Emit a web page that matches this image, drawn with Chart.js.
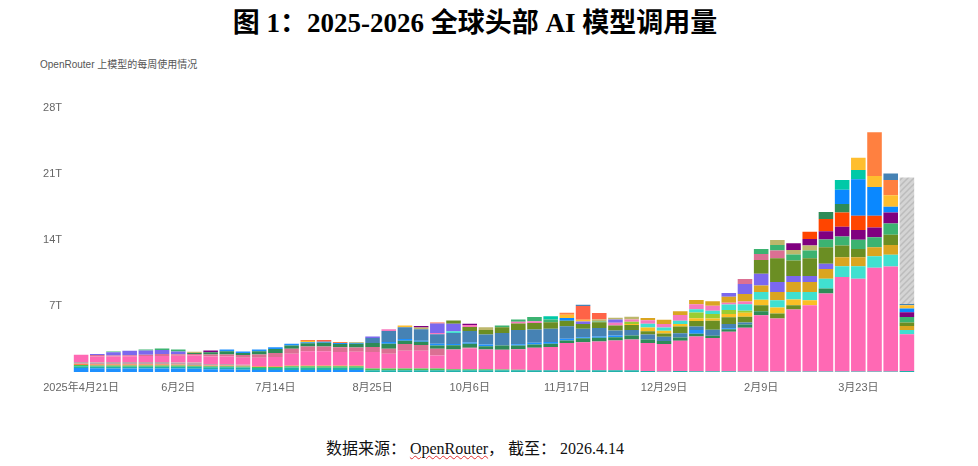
<!DOCTYPE html>
<html>
<head>
<meta charset="utf-8">
<script src="https://cdn.jsdelivr.net/npm/chart.js@4.4.1/dist/chart.umd.min.js"></script>
<style>
  html, body { margin: 0; padding: 0; background: #fff; }
  #page { position: relative; width: 978px; height: 466px; overflow: hidden; }
  #title {
    position: absolute; left: 0; top: 1px; width: 950px; text-align: center;
    font: bold 27px "Liberation Serif", "Noto Sans CJK SC", serif; color: #000;
  }
  #subtitle {
    position: absolute; left: 40px; top: 56px;
    font: 10px "Liberation Sans", "Noto Sans CJK SC", sans-serif; color: #555;
  }
  #source {
    position: absolute; left: 0; top: 435px; width: 950px; text-align: center;
    font: 16px "Liberation Serif", "Noto Sans CJK SC", serif; color: #111;
  }
  #source .sp { text-decoration: underline wavy #e03030; text-decoration-thickness: 1px; }
  #chartBox { position: absolute; left: 0; top: 90px; }
</style>
</head>
<body>
<div id="page">
  <div id="title">图 1：2025-2026 全球头部 AI 模型调用量</div>
  <div id="subtitle">OpenRouter 上模型的每周使用情况</div>
  <div id="chartBox"><canvas id="usageChart" width="930" height="310"></canvas></div>
  <div id="source">数据来源： <span class="sp">OpenRouter</span>， 截至： 2026.4.14</div>
</div>
<script>
// weekly categories (week start)
const weeks = [
    "2025年4月21日", "4月28日", "5月5日", "5月12日", "5月19日", "5月26日", "6月2日", "6月9日", "6月16日", "6月23日", "6月30日", "7月7日", "7月14日",
    "7月21日", "7月28日", "8月4日", "8月11日", "8月18日", "8月25日", "9月1日", "9月8日", "9月15日", "9月22日", "9月29日", "10月6日", "10月13日",
    "10月20日", "10月27日", "11月3日", "11月10日", "11月17日", "11月24日", "12月1日", "12月8日", "12月15日", "12月22日", "12月29日", "1月5日", "1月12日",
    "1月19日", "1月26日", "2月2日", "2月9日", "2月16日", "2月23日", "3月2日", "3月9日", "3月16日", "3月23日", "3月30日", "4月6日", "4月13日"
];
const yTicks = [7, 14, 21, 28];

// tokens per week (T), one array per model, bottom of the stack first
const blue0 = [
    .42, .4, .38, .38, .38, .38, .38, .35, .3, .3, .25, .2, .2,
    .22, .2, .2, .2, .2, 0, 0, 0, 0, 0, 0, 0, 0,
    0, 0, 0, 0, 0, 0, 0, 0, 0, 0, 0, 0, 0,
    0, 0, 0, 0, 0, 0, 0, 0, 0, 0, 0, 0, 0
];
const teal0 = [
    .18, .18, .18, .18, .18, .18, .18, .2, .2, .2, .22, .22, .22,
    .25, .25, .25, .25, .25, .18, .18, .18, .18, .18, .18, .18, .18,
    .18, .18, .18, .18, .18, .18, .18, .18, .18, .1, .05, .1, .08,
    .08, .07, .05, .05, .05, .05, .05, .05, .05, .05, .05, .05, .1
];
const lime0 = [
    .14, .12, .12, .12, .12, .12, .12, .1, .1, .1, .12, .1, .1,
    .13, .15, .15, .15, .15, .18, .18, .18, .18, .18, .1, .1, .1,
    .08, .05, 0, 0, 0, 0, 0, 0, 0, 0, 0, 0, 0,
    0, 0, 0, 0, 0, 0, 0, 0, 0, 0, 0, 0, 0
];
const orange0 = [
    .14, .12, .14, .14, .14, .14, .12, .1, .1, .1, .08, .08, .08,
    .1, .1, .1, .1, .1, 0, 0, 0, 0, 0, 0, 0, 0,
    0, 0, 0, 0, 0, 0, 0, 0, 0, 0, 0, 0, 0,
    0, 0, 0, 0, 0, 0, 0, 0, 0, 0, 0, 0, 0
];
const rosy0 = [
    .18, .2, .23, .23, .23, .23, .2, .25, .15, .15, .1, 0, 0,
    0, 0, 0, 0, 0, 0, 0, 0, 0, 0, 0, 0, 0,
    0, 0, 0, 0, 0, 0, 0, 0, 0, 0, 0, 0, 0,
    0, 0, 0, 0, 0, 0, 0, 0, 0, 0, 0, 0, 0
];
const pink = [
    .77, .63, .6, .63, .65, .65, .72, .75, .8, .8, .75, .9, 1.0,
    1.23, 1.5, 1.5, 1.42, 1.44, 1.75, 1.58, 1.9, 1.9, 1.4, 2.1, 2.2, 2.1,
    2.1, 2.18, 2.39, 2.46, 2.9, 2.98, 3.05, 3.16, 3.26, 2.98, 2.91, 3.2, 3.68,
    3.51, 4.18, 4.63, 5.96, 5.61, 6.56, 7.02, 8.25, 10.0, 9.82, 10.98, 11.12, 3.9
];
const mauve = [
    0, .14, .1, .1, .12, .2, .15, .15, .2, .2, .28, .35, .42,
    .53, .5, .5, .5, .45, .53, .53, .7, .6, .7, 0, .1, 0,
    0, 0, 0, 0, 0, 0, 0, 0, 0, 0, 0, 0, 0,
    0, 0, 0, 0, 0, 0, 0, 0, 0, 0, 0, 0, 0
];
const seaGreen = [
    0, 0, 0, 0, 0, 0, 0, .12, .25, .35, .2, .35, .42,
    .35, .35, .4, .35, .4, .42, .53, .35, .35, .35, .45, .4, .35,
    .45, .39, .35, .35, .25, .42, .39, .35, .42, .35, .32, .35, .28,
    .25, .28, .35, .42, 0, 0, 0, .53, 0, 0, 0, 0, 0
];
const blueLine = [
    0, 0, 0, 0, 0, 0, 0, 0, 0, .18, .17, .18, .18,
    .18, .1, .1, .1, .1, 0, .18, .18, .1, .18, .14, .14, .18,
    0, .14, .18, .18, .18, .1, .14, .18, 0, 0, 0, 0, .42,
    0, .1, 0, 0, 0, 0, 0, 0, 0, 0, 0, 0, 0
];
const steelBlue = [
    0, 0, 0, 0, 0, 0, 0, 0, 0, 0, 0, 0, 0,
    0, 0, 0, 0, 0, .53, 1.16, 1.25, 1.23, 1.0, 1.16, 1.23, 1.05,
    1.33, 1.5, 1.4, 1.4, 1.33, .91, .91, .53, .6, .53, .46, .46, .35,
    .63, .46, .2, 0, 0, 0, 0, 0, 0, 0, 0, 0, 0
];
const olive0 = [
    0, 0, 0, 0, 0, 0, 0, 0, 0, 0, 0, 0, 0,
    0, 0, 0, 0, 0, 0, 0, 0, 0, 0, 0, .42, .5,
    .6, .7, .7, .7, .6, .49, .6, .53, .53, .35, .35, .7, .6,
    .95, .7, .63, .63, .53, .46, 0, 0, 0, 0, 0, 0, 0
];
const gold2 = [
    0, 0, 0, 0, 0, 0, 0, 0, 0, 0, 0, 0, 0,
    0, 0, 0, 0, 0, 0, 0, 0, 0, 0, 0, 0, 0,
    0, 0, 0, 0, 0, 0, 0, 0, .08, .39, .28, .28, .28,
    .25, .35, .42, .6, .63, .6, .53, 0, 0, 0, 0, 0, 0
];
const yellowGreen = [
    0, 0, 0, 0, 0, 0, 0, 0, 0, 0, 0, 0, 0,
    0, 0, 0, 0, 0, 0, 0, 0, 0, 0, 0, 0, 0,
    0, 0, 0, 0, 0, 0, 0, 0, .25, 0, 0, 0, .6,
    .46, .42, .2, 0, 0, 0, 0, 0, 0, 0, 0, 0, 0
];
const turquoise = [
    0, 0, 0, 0, 0, 0, 0, 0, 0, 0, 0, 0, 0,
    0, 0, 0, 0, 0, 0, 0, 0, 0, 0, .18, 0, 0,
    0, 0, 0, 0, 0, 0, 0, 0, 0, .42, .35, .35, .35,
    .35, .6, .7, .81, .77, .81, .88, 1.05, 1.16, 1.33, 1.23, 1.26, .46
];
const pink2 = [
    0, 0, 0, 0, 0, 0, 0, 0, 0, 0, 0, 0, 0,
    0, 0, 0, 0, 0, 0, .18, 0, 0, .14, 0, .2, 0,
    0, .18, .18, 0, 0, 0, 0, .28, .25, .35, .35, .6, .53,
    .53, .18, .28, 0, 0, 0, 0, 0, 0, 0, 0, 0, 0
];
const goldenrod = [
    0, 0, 0, 0, 0, 0, 0, 0, 0, 0, 0, 0, 0,
    0, 0, 0, 0, 0, 0, 0, 0, 0, 0, 0, 0, 0,
    0, 0, 0, 0, 0, 0, 0, 0, 0, .25, .46, .39, .46,
    .49, .63, .81, .7, .88, 1.05, 1.05, 1.02, .95, .95, .95, 1.02, .42
];
const slateBlue = [
    0, .12, .35, .47, .45, .42, .3, 0, 0, 0, 0, 0, 0,
    0, 0, 0, 0, 0, .18, 0, 0, 0, 1.0, .8, 0, 0,
    0, 0, 0, 0, 0, .28, 0, .35, 0, 0, 0, 0, 0,
    0, .39, 1.05, 1.23, 1.05, .63, .63, .56, 0, 0, 0, 0, 0
];
const olive = [
    0, 0, 0, 0, 0, 0, 0, 0, 0, 0, 0, 0, 0,
    0, 0, 0, 0, 0, 0, 0, 0, 0, 0, .35, 0, 0,
    0, 0, 0, 0, 0, 0, 0, 0, 0, 0, 0, 0, 0,
    0, 0, 0, 1.47, 2.53, 1.65, 1.89, 1.75, 1.23, .88, 0, 1.09, .35
];
const paleRed = [
    0, 0, 0, 0, 0, 0, 0, 0, 0, 0, 0, 0, 0,
    0, 0, 0, 0, 0, 0, 0, 0, 0, 0, 0, 0, 0,
    0, 0, 0, 0, 0, 0, 0, 0, 0, 0, 0, 0, 0,
    0, 0, .53, .63, .81, 0, 0, 0, 0, 0, 0, 0, 0
];
const medSeaGreen = [
    0, 0, .07, 0, .1, .18, .2, 0, 0, 0, 0, 0, 0,
    0, 0, 0, 0, 0, 0, 0, 0, 0, 0, 0, 0, 0,
    .18, .25, .45, .28, 0, 0, .07, 0, 0, 0, 0, 0, 0,
    0, 0, 0, .53, .6, .63, .81, .81, .95, .98, 1.05, 1.19, .6
];
const khaki = [
    0, 0, 0, 0, 0, 0, 0, .12, 0, 0, 0, 0, 0,
    0, 0, 0, 0, 0, 0, 0, 0, .18, 0, 0, 0, .28,
    0, 0, 0, 0, 0, 0, .21, .18, .28, 0, 0, 0, 0,
    0, 0, 0, 0, .53, .49, .53, 0, 0, 0, 0, 0, 0
];
const purple = [
    0, 0, 0, 0, 0, 0, 0, 0, .18, 0, 0, 0, 0,
    0, 0, 0, 0, 0, 0, 0, 0, .15, 0, 0, .14, 0,
    0, 0, 0, 0, 0, 0, 0, 0, 0, 0, 0, 0, 0,
    0, 0, 0, 0, 0, .7, .7, .88, 1.05, 1.02, 1.05, 1.16, .5
];
const orangeRed = [
    0, 0, 0, 0, 0, 0, 0, 0, 0, 0, 0, 0, 0,
    0, 0, 0, 0, 0, 0, 0, 0, 0, 0, 0, 0, 0,
    0, 0, 0, 0, 0, 0, 0, 0, 0, 0, 0, 0, 0,
    0, 0, 0, 0, 0, 0, .77, 1.3, 1.51, 1.51, 1.23, 0, 0
];
const seaGreen2 = [
    0, 0, 0, 0, 0, 0, 0, 0, 0, 0, 0, 0, 0,
    0, 0, 0, 0, 0, 0, 0, 0, 0, 0, 0, 0, 0,
    0, 0, 0, 0, 0, 0, 0, 0, 0, 0, 0, 0, 0,
    0, 0, 0, 0, 0, 0, 0, .74, .88, 0, 0, 0, 0
];
const dodgerBlue = [
    0, 0, 0, 0, 0, 0, 0, 0, 0, 0, 0, 0, 0,
    0, 0, 0, 0, 0, 0, 0, 0, 0, 0, 0, 0, 0,
    0, 0, 0, 0, .28, 0, 0, 0, 0, 0, 0, 0, 0,
    0, 0, 0, 0, 0, 0, 0, 0, 1.51, 3.86, 3.05, .6, .4
];
const tealGreen = [
    0, 0, 0, 0, 0, 0, 0, 0, 0, 0, 0, 0, 0,
    0, 0, 0, 0, 0, 0, 0, 0, 0, 0, 0, 0, 0,
    0, 0, 0, .35, 0, 0, 0, 0, 0, 0, 0, 0, 0,
    0, 0, 0, 0, 0, 0, 0, 0, 1.05, .98, 0, 0, 0
];
const gold3 = [
    0, 0, 0, 0, 0, 0, 0, 0, 0, 0, 0, 0, 0,
    0, .12, 0, 0, .1, 0, 0, .18, 0, 0, 0, 0, 0,
    0, 0, 0, 0, .35, .18, 0, 0, 0, 0, 0, 0, 0,
    0, 0, 0, 0, 0, 0, 0, 0, 0, 1.3, 1.16, 1.23, .35
];
const coral = [
    0, 0, 0, 0, 0, 0, 0, 0, 0, 0, 0, 0, 0,
    0, .13, 0, .12, 0, 0, 0, 0, 0, 0, 0, 0, 0,
    0, 0, 0, 0, .2, 0, 0, 0, 0, 0, 0, 0, 0,
    0, 0, 0, 0, 0, 0, 0, 0, 0, 0, 4.63, 1.61, 0
];
const tomato = [
    0, 0, 0, 0, 0, 0, 0, 0, 0, 0, 0, 0, 0,
    0, 0, .2, 0, 0, 0, 0, 0, 0, .1, 0, 0, 0,
    0, 0, 0, 0, 0, 1.45, .7, 0, 0, 0, 0, 0, 0,
    0, 0, 0, 0, 0, 0, 0, 0, 0, 0, 0, 0, 0
];
const steelBlue2 = [
    0, 0, 0, 0, 0, 0, 0, 0, 0, 0, 0, 0, 0,
    0, 0, 0, 0, 0, 0, 0, 0, 0, 0, 0, 0, 0,
    0, 0, 0, 0, 0, .14, 0, 0, 0, 0, 0, 0, 0,
    0, 0, 0, 0, 0, 0, 0, 0, 0, 0, 0, .7, .12
];
// remaining projected usage for the unfinished last week
const projected = [
    0, 0, 0, 0, 0, 0, 0, 0, 0, 0, 0, 0, 0,
    0, 0, 0, 0, 0, 0, 0, 0, 0, 0, 0, 0, 0,
    0, 0, 0, 0, 0, 0, 0, 0, 0, 0, 0, 0, 0,
    0, 0, 0, 0, 0, 0, 0, 0, 0, 0, 0, 0, 13.4
];

// hatched gray fill for the projection
function makeHatch() {
    const c = document.createElement("canvas");
    c.width = 6; c.height = 6;
    const g = c.getContext("2d");
    g.fillStyle = "#d4d4d4";
    g.fillRect(0, 0, 6, 6);
    g.strokeStyle = "#bcbcbc";
    g.lineWidth = 1.5;
    g.beginPath();
    g.moveTo(0, 6); g.lineTo(6, 0);
    g.moveTo(-1, 1); g.lineTo(1, -1);
    g.moveTo(5, 7); g.lineTo(7, 5);
    g.stroke();
    return g.createPattern(c, "repeat");
}

const stack = [
    [blue0, "#1E90FF"], [teal0, "#20B2AA"], [lime0, "#4CC552"], [orange0, "#FF7F50"],
    [rosy0, "#BFA2AC"], [pink, "#FF69B4"], [mauve, "#DB7093"], [seaGreen, "#2E8B57"],
    [blueLine, "#1E90FF"], [steelBlue, "#4682B4"], [olive0, "#6B8E23"], [gold2, "#FBBF24"],
    [yellowGreen, "#9ACD32"], [turquoise, "#40E0D0"], [pink2, "#F779BE"], [goldenrod, "#DAA520"],
    [slateBlue, "#7B68EE"], [olive, "#6B8E23"], [paleRed, "#DB7093"], [medSeaGreen, "#3CB371"],
    [khaki, "#BDB76B"], [purple, "#800080"], [orangeRed, "#FF4500"], [seaGreen2, "#2E8B57"],
    [dodgerBlue, "#0A88FF"], [tealGreen, "#00C9A7"], [gold3, "#FFBE2E"], [coral, "#FF8040"],
    [tomato, "#FF6347"], [steelBlue2, "#4682B4"]
];

const datasets = stack.map(([data, color], i) => ({
    label: "model " + (i + 1),
    data: data,
    backgroundColor: color,
    borderWidth: 0
}));
datasets.push({
    label: "projected",
    data: projected,
    backgroundColor: makeHatch(),
    borderWidth: 0
});

const tickFont = { size: 11, family: "'Liberation Sans', 'Noto Sans CJK SC', sans-serif" };

new Chart(document.getElementById("usageChart"), {
    type: "bar",
    data: { labels: weeks, datasets: datasets },
    options: {
        responsive: false,
        animation: false,
        layout: { padding: { top: 16, right: 15, left: 0, bottom: 0 } },
        datasets: { bar: { categoryPercentage: 1, barPercentage: 0.9 } },
        plugins: { legend: { display: false }, tooltip: { enabled: false } },
        scales: {
            x: {
                stacked: true,
                grid: { display: false, drawTicks: false },
                border: { display: false },
                ticks: {
                    autoSkip: false, maxRotation: 0, padding: 9, color: "#666", font: tickFont,
                    callback: function (v, i) { return i % 6 === 0 ? this.getLabelForValue(v) : ""; }
                },
                afterFit: (s) => { s.height = 28; }
            },
            y: {
                stacked: true, min: 0, max: yTicks[yTicks.length - 1],
                grid: { display: false, drawTicks: false },
                border: { display: false },
                ticks: {
                    stepSize: 7, padding: 11, color: "#666", font: tickFont,
                    callback: (v) => (yTicks.includes(v) ? v + "T" : "")
                },
                afterFit: (s) => { s.width = 73; }
            }
        }
    }
});
</script>
</body>
</html>
